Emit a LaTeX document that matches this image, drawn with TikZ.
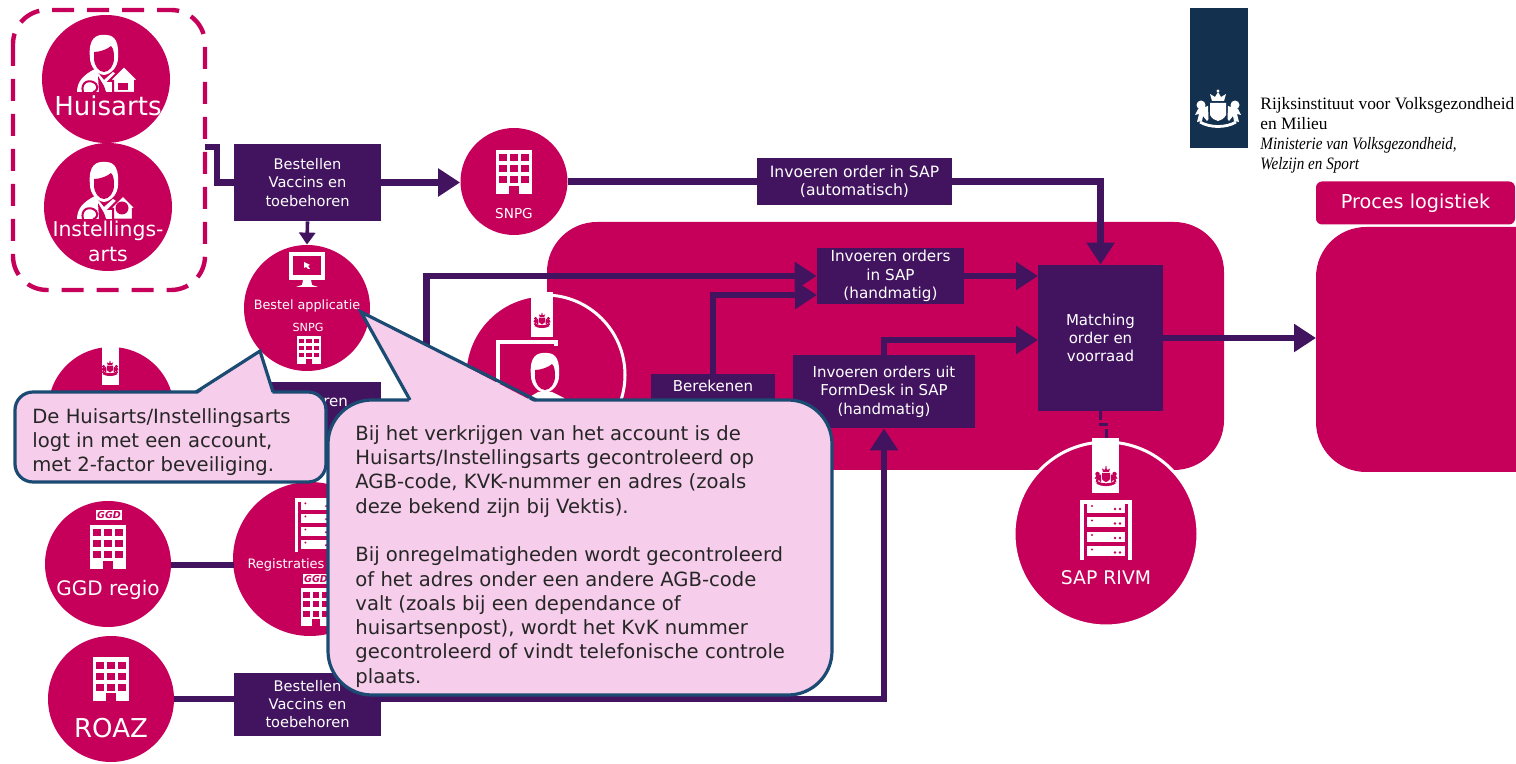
\documentclass[tikz,border=0pt]{standalone}
\usepackage{fontspec}
\setmainfont{DejaVu Sans}
\newfontfamily\logofont{Liberation Serif}
\usetikzlibrary{positioning}
\usetikzlibrary{arrows.meta}
\definecolor{rivmpink}{HTML}{C6005A}
\definecolor{rivmpurple}{HTML}{42145F}
\definecolor{rivmnavy}{HTML}{14304F}
\definecolor{balloon}{HTML}{F6CDEA}
\definecolor{balloonline}{HTML}{1B4B73}
\newcommand{\fs}[2]{\fontsize{#1}{#2}\selectfont}
\tikzset {
  % circled actors, minimum size in pt equals the radius in pixels
  main/.style = {circle, fill=rivmpink, inner sep=0pt},
  ringed/.style = {main, draw=white, line width=1.5pt},
  % purple process blocks
  proc/.style = {fill=rivmpurple, text=white, align=center, inner sep=0pt, font=\fs{7.5}{9.2}},
  % white labels on the circles
  lab/.style = {text=white, align=center, inner sep=0pt},
  % connectors
  flow/.style = {rivmpurple, line width=3.1pt, -{Triangle[length=11pt,width=13.5pt]}},
  plain/.style = {rivmpurple, line width=3.1pt},
  % speech balloons
  balloonbody/.style = {draw=balloonline, fill=balloon, line width=1.6pt, inner sep=0pt},
  balloontip/.style = {draw=balloonline, line width=1.6pt, line join=miter},
  balloontext/.style = {text=black!85, align=left, anchor=north west, inner sep=0pt, font=\fs{9.8}{12.15}},
  % small GGD logo
  ggdlogo/.style = {fill=white, inner sep=0.6pt, text=rivmpink, font=\itshape\bfseries\fs{4.8}{5}},
  % icons
  building/.pic = {
    \fill[white] (-18,-22) rectangle (18,22);
    \foreach \i in {-11,0,11} {
      \foreach \j in {-14,-3,8} {
        \fill[rivmpink] (\i-4,\j-3.5) rectangle (\i+4,\j+3.5);
      }
    }
    \fill[rivmpink] (-5,14) rectangle (5,22);
  },
  server/.pic = {
    \fill[white] (-26,-30) rectangle (26,30);
    \fill[rivmpink] (-22,-26) rectangle (22,30);
    \foreach \j in {-22,-7.5,7,21.5} {
      \fill[white] (-19,\j-5) rectangle (19,\j+5);
      \fill[rivmpink] (-14,\j-2) circle (1.2);
      \fill[rivmpink] (9,\j+1) circle (1.3);
      \fill[rivmpink] (14,\j+1) circle (1.3);
    }
  },
  monitor/.pic = {
    \fill[white] (-18,-14) rectangle (18,14);
    \fill[rivmpink] (-14,-10) rectangle (14,9);
    \fill[white] (-3,-4) -- (3,-1) -- (1,0) -- (3,3) -- (1,3) -- (-1,1) -- (-3,2) -- cycle;
    \fill[white] (-4,14) -- (4,14) -- (5,19) -- (11,21) -- (-11,21) -- (-5,19) -- cycle;
  },
  head/.pic = {
    \fill[white] (-14,6) .. controls (-16,-14) and (-8,-18) .. (2,-17)
      .. controls (12,-17) and (15,-8) .. (14,6)
      .. controls (14,14) and (8,22) .. (0,23)
      .. controls (-8,22) and (-14,14) .. (-14,6) -- cycle;
    \fill[rivmpink] (-10,0) .. controls (-4,0) and (4,-3) .. (7,-6)
      .. controls (10,-3) and (10,2) .. (10,6)
      .. controls (10,14) and (5,20) .. (0,20)
      .. controls (-5,20) and (-10,14) .. (-10,6) -- cycle;
  },
  doctor/.pic = {
    % shoulders
    \fill[white] (-27,40) .. controls (-27,30) and (-21,23) .. (-9,17) -- (0,28)
      -- (9,20) -- (18,26) -- (18,40) -- cycle;
    \fill[rivmpink] (-6,24) -- (0,34) -- (2,40) -- (-5,40) -- cycle;
    \pic {head};
    % stethoscope
    \draw[rivmpink, line width=1pt] (-21,40) .. controls (-24,30) and (-14,26) .. (-8,32)
      .. controls (-5,36) and (-8,40) .. (-11,40);
  },
  house/.pic = {
    \fill[white, draw=rivmpink, line width=1pt, line join=miter] (0,-14) -- (15,1) -- (11,1) -- (11,13) -- (-11,13) -- (-11,1) -- (-15,1) -- cycle;
  },
  % coat of arms, the colour is passed on as argument
  arms/.pic = {
    % crown
    \fill[#1] (-6,-8) -- (-8,-15) -- (-3,-12) -- (0,-17) -- (3,-12) -- (8,-15) -- (6,-8) -- cycle;
    \fill[#1] (0,-18) circle (1.6);
    % shield
    \fill[#1] (-8,-6) -- (8,-6) -- (8,6) .. controls (6,10) and (3,11) .. (0,12)
      .. controls (-3,11) and (-6,10) .. (-8,6) -- cycle;
    % lions
    \foreach \s in {-1,1} {
      \begin{scope}[xscale=\s]
        \fill[#1] (17,-4) circle (4.5);
        \fill[#1] (10,-3) -- (20,0) -- (23,6) -- (19,5) -- (21,13) -- (16,12) -- (15,7) -- (11,12) -- (9.5,10) -- cycle;
      \end{scope}
    }
    % ribbon
    \draw[#1, line width=1.4pt] (-18,13) .. controls (-8,19) and (8,19) .. (18,13);
  },
}
\begin{document}
\begin{tikzpicture}[x=0.5pt, y=-0.5pt]
  \useasboundingbox (0,0) rectangle (1516,764);

  % panels
  \fill[rivmpink, rounded corners=25pt] (547,222) rectangle (1224,470);
  \fill[rivmpink, rounded corners=25pt] (1316,227) rectangle (1600,472);
  \node[fill=rivmpink, rounded corners=3pt, minimum width=99.5pt, minimum height=21.5pt, text=white, inner sep=0pt, font=\fs{9.6}{11}] (logistiek) at (1415.5,203) {Proces logistiek};

  % logo
  \fill[rivmnavy] (1190,8) rectangle (1248,148);
  \pic at (1218,109) {arms={white}};
  \node[anchor=north west, align=left, inner sep=0pt, font=\logofont\fs{8.7}{10}, text=black] (rivm) at (1260,97) {Rijksinstituut voor Volksgezondheid\\en Milieu\\\addfontfeature{FakeStretch=0.87}\itshape Ministerie van Volksgezondheid,\\\addfontfeature{FakeStretch=0.87}\itshape Welzijn en Sport};

  % group of doctors
  \draw[rivmpink, line width=2.2pt, dash pattern=on 11pt off 6.5pt, rounded corners=17pt] (13,10) rectangle (205,290);
  \node[main, minimum size=64pt] (huisarts) at (106,79) {};
  \node[main, minimum size=64pt] (instelling) at (108,207) {};
  \pic at (104,52) {doctor};
  \pic at (124,80) {house};
  \fill[rivmpink] (118,83) rectangle (128,90);
  \pic at (104,179) {doctor};
  \pic[scale=0.9] at (123,208) {house};
  \fill[rivmpink] (122,208) circle (6.5);
  \node[lab, font=\fs{13}{15}] (huisartslab) at (108,106) {Huisarts};
  \node[lab, font=\fs{10.2}{12.4}] (instellinglab) at (108,241) {Instellings-\\arts};
  \coordinate (groep) at (205,147);

  % order flow, top row
  \node[proc, minimum width=73.5pt, minimum height=38.5pt, font=\fs{7.3}{9.2}] (bestellen) at (307.5,182.5) {Bestellen\\Vaccins en\\toebehoren};
  \node[main, minimum size=53.5pt] (snpg) at (514,181.5) {};
  \pic at (514,172) {building};
  \node[lab, font=\fs{6.8}{8}] (snpglab) at (514,214) {SNPG};
  \node[proc, minimum width=97.5pt, minimum height=23.5pt, font=\fs{7.8}{9.2}] (automatisch) at (854.5,181.5) {Invoeren order in SAP\\(automatisch)};
  \node[main, minimum size=63pt] (bestelapp) at (307,308) {};
  \pic at (307,266) {monitor};
  \node[lab, font=\fs{6.4}{8}] (bestelapplab) at (307,306) {Bestel applicatie};
  \node[lab, font=\fs{5.6}{7}] (snpg2lab) at (308,327) {SNPG};
  \pic[scale=0.65] at (309,350) {building};

  % second row, partly under the balloons
  \node[main, minimum size=63pt] (rivmleft) at (111,410) {};
  \fill[white] (102,347) rectangle (119,385);
  \pic[scale=0.38] at (110,368) {arms={rivmpink}};
  \node[proc, minimum width=73.5pt, minimum height=40pt] (invoeren) at (307.5,422) {};
  \node[lab, font=\fs{7.5}{9}] (invoerenlab) at (315,401) {Invoeren};
  \node[main, minimum size=77pt] (registraties) at (310,559) {};
  \pic[scale=0.9] at (318,525) {server};
  \node[lab, font=\fs{6.5}{8}] (registratieslab) at (286,565) {Registraties};
  \node[ggdlogo] (ggd2) at (316,579) {GGD};
  \pic[scale=0.85] at (316,607) {building};
  \node[main, minimum size=63pt] (ggd) at (108,564) {};
  \node[ggdlogo] (ggd1) at (109,515) {GGD};
  \pic at (108,547) {building};
  \node[lab, font=\fs{10}{12}] (ggdlab) at (108,590) {GGD regio};
  \node[main, minimum size=63pt] (roaz) at (111,699) {};
  \pic at (111,679) {building};
  \node[lab, font=\fs{13}{15}] (roazlab) at (111,728) {ROAZ};
  \node[proc, minimum width=73.5pt, minimum height=31.5pt, font=\fs{7.3}{9}] (roazbox) at (307.5,704.5) {Bestellen\\Vaccins en\\toebehoren};

  % circle with the RIVM employee
  \node[ringed, minimum size=80pt] (medewerker) at (545,375) {};
  \fill[white] (531,292) rectangle (553,337);
  \pic[scale=0.38] at (542,320) {arms={rivmpink}};
  \draw[white, line width=2.4pt] (498,342) rectangle (556,405);
  \fill[rivmpink] (524,346) rectangle (566,410);
  \pic at (545,370) {head};
  \fill[white] (526,410) -- (528,398) -- (538,392) -- (552,392) -- (564,398) -- (570,410) -- cycle;

  % process blocks in the panel
  \node[proc, minimum width=73.5pt, minimum height=28pt, font=\fs{7.6}{9.2}] (handmatig) at (890.5,276) {Invoeren orders\\in SAP\\(handmatig)};
  \node[proc, minimum width=62pt, minimum height=30pt, anchor=north] (berekenen) at (713,374) {};
  \node[lab, font=\fs{7.5}{9}] (berekenenlab) at (713,386) {Berekenen};
  \node[proc, minimum width=91pt, minimum height=36.5pt] (formdesk) at (884,391.5) {Invoeren orders uit\\FormDesk in SAP\\(handmatig)};
  \node[proc, minimum width=62.5pt, minimum height=73pt] (matching) at (1100.5,338) {Matching\\order en\\voorraad};
  \node[ringed, minimum size=92pt] (sap) at (1106,534) {};
  \fill[white] (1092,438) rectangle (1119,493);
  \pic[scale=0.5] at (1106,476) {arms={rivmpink}};
  \pic at (1106,530) {server};
  \node[lab, font=\fs{9.4}{11}] (saplab) at (1106,578) {SAP RIVM};
  \coordinate (sapin) at (1106,438);

  % connectors
  \draw[plain] (groep) -- ++(12,0) |- (bestellen.west);
  \draw[flow] (bestellen.east) -- (bestellen.east -| snpg.west);
  \draw[rivmpurple, line width=1.8pt, -{Triangle[length=6pt,width=8pt]}] (bestellen.south) -- (bestelapp.north);
  \draw[plain] (snpg.east) -- (automatisch.west);
  \draw[flow] (automatisch.east) -| (matching.north);
  \draw[flow] (invoeren.east) -- ++(45,0) |- (handmatig.west);
  \coordinate (handin) at (817,295);
  \draw[flow] (berekenen.north) |- (handin);
  \coordinate (matchin) at (1038,276);
  \draw[flow] (handmatig.east) -- (matchin);
  \coordinate (matchin2) at (1038,340);
  \coordinate (formout) at (884,355);
  \draw[flow] (formout) |- (matchin2);
  \coordinate (roazin) at (234,699);
  \draw[plain] (roaz.east) -- (roazin);
  \coordinate (roazout) at (381,699);
  \draw[flow] (roazout) -| (formdesk.south);
  \coordinate (ggdout) at (171,565);
  \coordinate (regin) at (234,565);
  \draw[plain] (ggdout) -- (regin);
  \coordinate (procesin) at (1316,338);
  \draw[flow] (matching.east) -- (procesin);
  \draw[rivmpurple, line width=1.5pt, dash pattern=on 4.5pt off 1.5pt] (1100.5,411) |- (1106,425) -- (sapin);

  % balloons
  \node[balloonbody, rounded corners=9pt, minimum width=155.5pt, minimum height=45pt] (ballon1) at (170.5,437) {};
  \coordinate (tip1a) at (196,392);
  \coordinate (tip1) at (260,351);
  \coordinate (tip1b) at (273,392);
  \fill[balloon] ([yshift=-1.5pt]tip1a) -- (tip1) -- ([yshift=-1.5pt]tip1b) -- cycle;
  \draw[balloontip] (tip1a) -- (tip1) -- (tip1b);
  \node[balloontext] (logt) at (32,408) {De Huisarts/Instellingsarts\\logt in met een account,\\met 2-factor beveiliging.};
  \node[balloonbody, rounded corners=22pt, minimum width=252pt, minimum height=147.5pt] (ballon2) at (580,547.5) {};
  \coordinate (tip2a) at (410,400);
  \coordinate (tip2) at (361,312);
  \coordinate (tip2b) at (536,400);
  \fill[balloon] ([yshift=-1.5pt]tip2a) -- (tip2) -- ([yshift=-1.5pt]tip2b) -- cycle;
  \draw[balloontip] (tip2a) -- (tip2) -- (tip2b);
  \node[balloontext] (account) at (355,425) {Bij het verkrijgen van het account is de\\Huisarts/Instellingsarts gecontroleerd op\\AGB-code, KVK-nummer en adres (zoals\\deze bekend zijn bij Vektis).\\[12.15pt]Bij onregelmatigheden wordt gecontroleerd\\of het adres onder een andere AGB-code\\valt (zoals bij een dependance of\\huisartsenpost), wordt het KvK nummer\\gecontroleerd of vindt telefonische controle\\plaats.};
\end{tikzpicture}
\end{document}
